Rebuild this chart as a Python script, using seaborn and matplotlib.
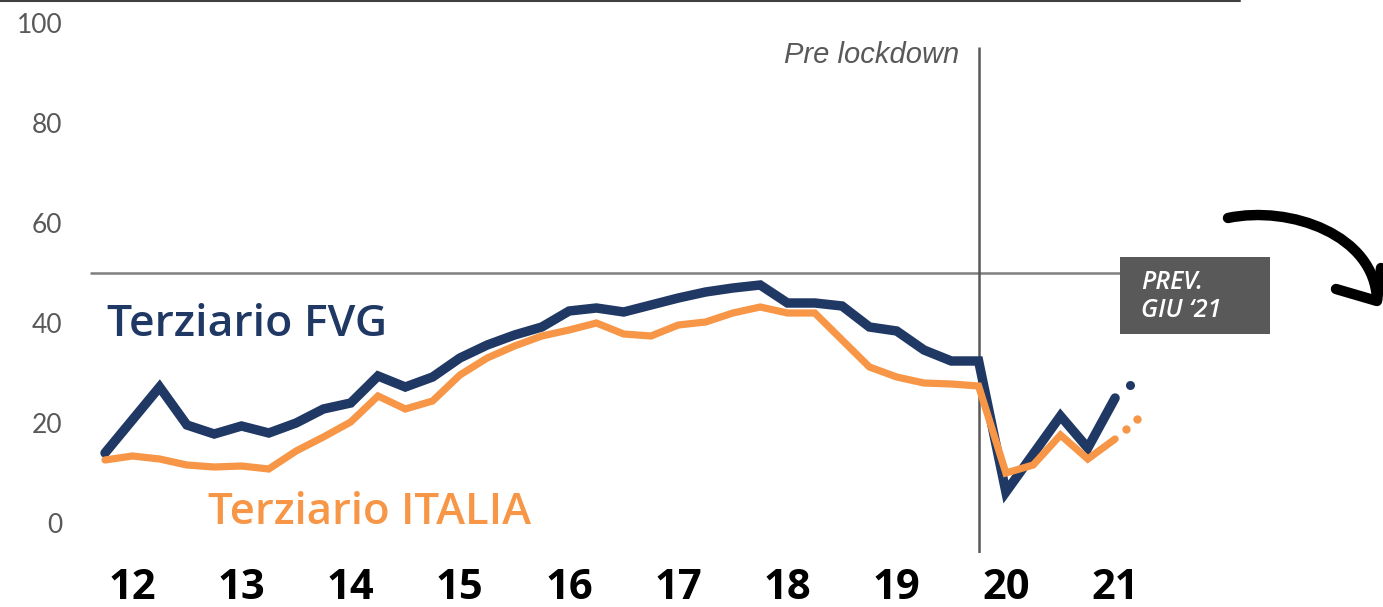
import numpy as np
import pandas as pd
import matplotlib
matplotlib.use("Agg")
import matplotlib.pyplot as plt
import seaborn as sns
from matplotlib.patches import Rectangle, PathPatch
from matplotlib.path import Path
from matplotlib.lines import Line2D

# ---------------- data ----------------
quarters = list(range(38))  # quarterly index, 2012 Q1 ... 2021 Q2
fvg = [14.0, 20.6, 27.2, 19.6, 17.8, 19.4, 18.0, 20.0, 22.8, 24.0,
       29.4, 27.2, 29.2, 33.0, 35.6, 37.6, 39.2, 42.4, 43.0, 42.2,
       43.6, 45.0, 46.2, 47.0, 47.6, 44.0, 44.0, 43.4, 39.2, 38.4,
       34.6, 32.4, 32.4, 6.2, 13.8, 21.4, 15.0, 25.0]
italia = [12.6, 13.4, 12.8, 11.6, 11.2, 11.4, 10.8, 14.4, 17.2, 20.2,
          25.4, 22.8, 24.4, 29.6, 33.0, 35.4, 37.4, 38.6, 40.0, 37.8,
          37.4, 39.6, 40.2, 42.0, 43.2, 42.0, 42.0, 36.6, 31.2, 29.2,
          28.0, 27.8, 27.4, 10.0, 11.6, 17.6, 12.8, 16.8]
# forecast dots (PREV. GIU '21)
fc_fvg_x = [37.55]
fc_fvg_y = [27.6]
fc_ita_x = [37.4, 37.8]
fc_ita_y = [18.8, 20.8]

year_labels = ["12", "13", "14", "15", "16", "17", "18", "19", "20", "21"]
year_pos = [1, 5, 9, 13, 17, 21, 25, 29, 33, 37]
yticks = [0, 20, 40, 60, 80, 100]
lockdown_q = 32
threshold = 50

NAVY = "#203864"
ORANGE = "#F79646"
GREY = "#595959"

df = pd.DataFrame({
    "q": quarters * 2,
    "value": fvg + italia,
    "serie": ["Terziario FVG"] * len(fvg) + ["Terziario ITALIA"] * len(italia),
})

sns.set_style("white")
plt.rcParams["font.family"] = ["Open Sans", "DejaVu Sans"]

fig = plt.figure(figsize=(13.83, 6.07), dpi=100)
W, H = 1383, 607
x0_px, xunit = 105, 27.3
left_px, bottom_px, top_px = 90, 553, 23
ax = fig.add_axes([left_px / W, (H - bottom_px) / H, 1 - left_px / W, (bottom_px - top_px) / H])
ax.set_xlim((left_px - x0_px) / xunit, (W - x0_px) / xunit)
ax.set_ylim(-6, 100)

# reference lines
ax.hlines(threshold, (left_px - x0_px) / xunit, 37.2, color="#7f7f7f", lw=1.8, zorder=1)
ax.vlines(lockdown_q, -6, 95.2, color=GREY, lw=1.8, zorder=1)

sns.lineplot(data=df, x="q", y="value", hue="serie",
             palette={"Terziario FVG": NAVY, "Terziario ITALIA": ORANGE},
             legend=False, ax=ax, zorder=3)
for ln, lw in zip(ax.get_lines(), [6.8, 5.2]):
    ln.set_linewidth(lw)
    ln.set_solid_capstyle("round")
    ln.set_solid_joinstyle("miter")

ax.plot(fc_fvg_x, fc_fvg_y, "o", color=NAVY, ms=6.5, mec="none", zorder=3)
ax.plot(fc_ita_x, fc_ita_y, "o", color=ORANGE, ms=6, mec="none", zorder=3)

for s in ax.spines.values():
    s.set_visible(False)

ax.set_yticks(yticks)
ax.set_yticklabels([str(v) for v in yticks], color=GREY, fontsize=19,
                   fontfamily=["Lato", "DejaVu Sans"], fontweight="normal")
ax.set_xticks(year_pos)
ax.set_xticklabels(year_labels, fontsize=30, fontweight="bold", color="black")
ax.tick_params(axis="y", length=0, pad=20)
ax.tick_params(axis="x", length=0, pad=11)
ax.set_xlabel("")
ax.set_ylabel("")

# series labels
ax.text(0.07, 39.8, "Terziario FVG", color=NAVY, fontsize=32, fontweight="semibold",
        va="center", ha="left")
ax.text(3.77, 2.0, "Terziario ITALIA", color=ORANGE, fontsize=31.5, fontweight="semibold",
        va="center", ha="left")

# annotation
ax.text(31.3, 93.6, "Pre lockdown", color=GREY, fontsize=21, style="italic",
        fontfamily=["Liberation Sans", "DejaVu Sans"], ha="right", va="center")

bx0, bx1 = (1120 - x0_px) / xunit, (1270 - x0_px) / xunit
ax.add_patch(Rectangle((bx0, 37.8), bx1 - bx0, 53.2 - 37.8, facecolor=GREY,
                       edgecolor="none", clip_on=False, zorder=2))
ax.text((1141 - x0_px) / xunit, 45.3, "PREV.\nGIU \u201821", color="white", fontsize=18,
        style="italic", fontweight="semibold", ha="left", va="center",
        linespacing=1.2, zorder=4)

# top rule
fig.add_artist(Line2D([0, 1240 / W], [1 - 1 / H, 1 - 1 / H], transform=fig.transFigure,
                      color="#404040", lw=1.5))

# hand-drawn style arrow (curve + head)
def fp(x, y):
    return (x / W, 1 - y / H)

curve = Path([fp(1228, 218), fp(1290, 205), fp(1375, 235), fp(1377, 300)],
             [Path.MOVETO, Path.CURVE4, Path.CURVE4, Path.CURVE4])
fig.add_artist(PathPatch(curve, transform=fig.transFigure, facecolor="none",
                         edgecolor="black", lw=7.5, capstyle="round", joinstyle="round"))
head = Path([fp(1336, 289), fp(1377, 301), fp(1381, 268)],
            [Path.MOVETO, Path.LINETO, Path.LINETO])
fig.add_artist(PathPatch(head, transform=fig.transFigure, facecolor="none",
                         edgecolor="black", lw=7.5, capstyle="round", joinstyle="round"))

fig.savefig("out.png", dpi=100)
